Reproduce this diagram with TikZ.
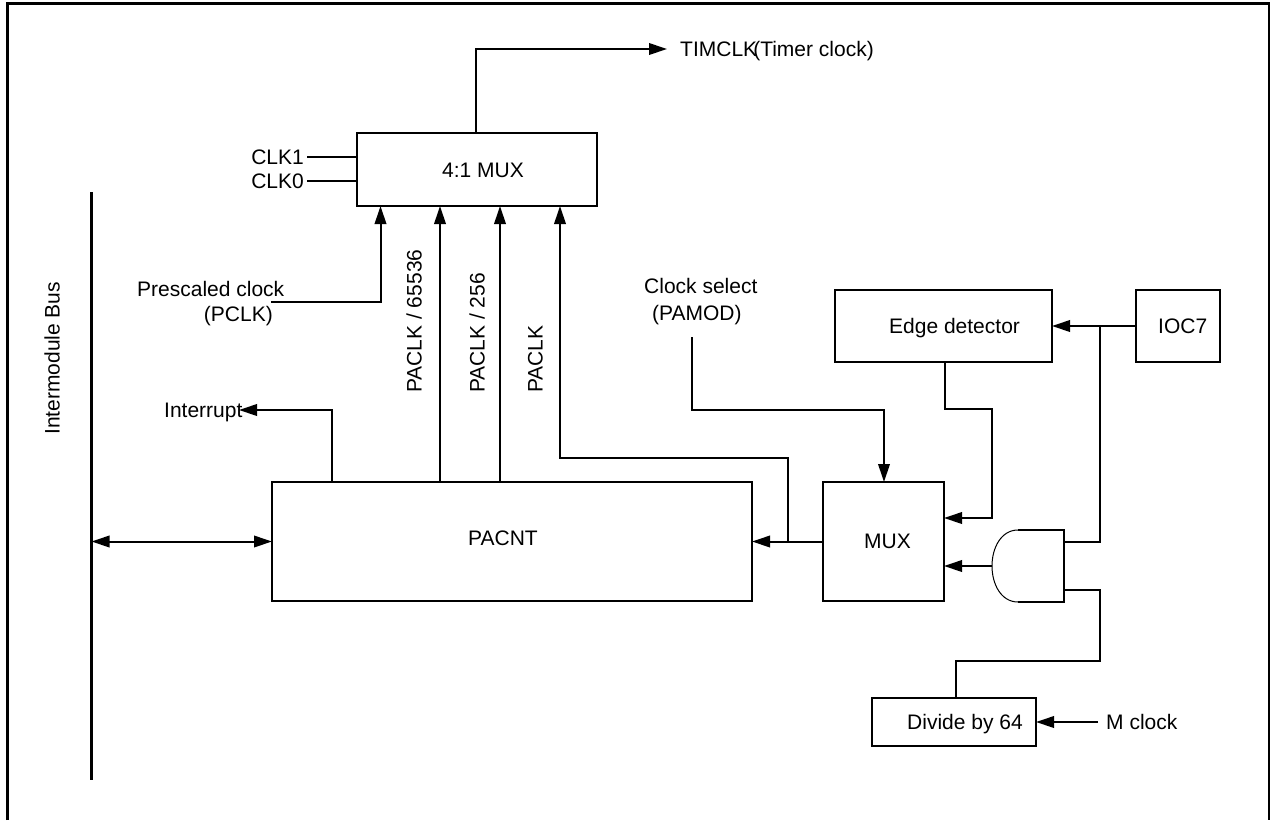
\documentclass[tikz,border=0pt]{standalone}
\usepackage{fontspec}
\setmainfont{Liberation Sans}
\usetikzlibrary{arrows.meta}
\tikzset{
  tip/.tip={Triangle[length=18pt,width=11.5pt]},
  box/.style={draw,line width=2pt,inner sep=0pt,outer sep=0pt,anchor=north west},
  wire/.style={line width=2pt},
  arr/.style={wire,-tip},
  biarr/.style={wire,tip-tip},
  thick line/.style={line width=3pt},
  lab/.style={font=\fontsize{21}{24}\selectfont,inner sep=0pt,anchor=west,text height=15pt,text depth=0pt},
  rlab/.style={lab,rotate=90}}
\begin{document}
\begin{tikzpicture}[x=1pt,y=-1pt]
\useasboundingbox (0,0) rectangle (1270,820);
\fill[white] (0,0) rectangle (1270,820);
\draw[thick line] (7.5,820) -- (7.5,3.5) -- (1269,3.5) -- (1269,820);
\node[box,minimum width=240pt,minimum height=73pt] (mux4) at (356.5,133) {};
\node[lab] at (442,170) {4:1 MUX};
\node[box,minimum width=480pt,minimum height=119pt] (pacnt) at (272,482) {};
\node[lab] at (468,538) {PACNT};
\node[box,minimum width=121pt,minimum height=119pt] (mux) at (823,482) {};
\node[lab] at (864,541) {MUX};
\node[box,minimum width=217pt,minimum height=72pt] (edge) at (835,290) {};
\node[lab] at (889,326) {Edge detector};
\node[box,minimum width=84pt,minimum height=72pt] (ioc) at (1136,290) {};
\node[lab] at (1158,326) {IOC7};
\node[box,minimum width=164pt,minimum height=48pt] (div) at (872,698) {};
\node[lab] at (907,722) {Divide by 64};
\node[lab] (mclk) at (1106,722) {M clock};
\node[lab] (tim) at (680,49) {TIMCLK};
\node[lab,anchor=east] at (874,49) {(Timer clock)};
\node[lab,anchor=east] (c1) at (304,157) {CLK1};
\node[lab,anchor=east] (c0) at (304,181) {CLK0};
\node[lab] (ps) at (137,289) {Prescaled clock};
\node[lab,anchor=east] (pc) at (273,314) {(PCLK)};
\node[lab] (cs) at (644,286) {Clock select};
\node[lab] (pm) at (652,313) {(PAMOD)};
\node[lab] (int) at (164,410) {Interrupt};
\node[rlab,anchor=west] at (52,435) {Intermodule Bus};
\node[rlab,anchor=west] at (414,393) {PACLK / 65536};
\node[rlab,anchor=west] at (477,393) {PACLK / 256};
\node[rlab,anchor=west] at (535,393) {PACLK};
\coordinate (bt) at (91.5,192);
\coordinate (bb) at (91.5,780);
\coordinate (tt) at (667,49);
\coordinate (ci) at (239,410);
\draw[thick line] (bt) -- (bb);
\draw[biarr] (93,541.5 -| bt) -- (pacnt.west);
\draw[arr] (476,0 |- mux4.north) -- (476,49) -- (tt);
\draw[wire] (307,157) -- (307,157 -| mux4.west);
\draw[wire] (307,181) -- (307,181 -| mux4.west);
\draw[arr] (271,302) -- (380.5,302) -- (380.5,0 |- mux4.south);
\draw[arr] (440,0 |- pacnt.north) -- (440,0 |- mux4.south);
\draw[arr] (500,0 |- pacnt.north) -- (500,0 |- mux4.south);
\draw[arr] (788,541.5) -- (788,458) -- (560,458) -- (560,0 |- mux4.south);
\draw[arr] (332,0 |- pacnt.north) -- (332,410) -- (ci);
\draw[arr] (mux.west) -- (pacnt.east);
\draw[arr] (692,337) -- (692,410) -- (884,410) -- (884,0 |- mux.north);
\draw[arr] (945,0 |- edge.south) -- (945,409) -- (992,409) -- (992,518) -- (992,518 -| mux.east);
\coordinate (gl) at (992,566);
\draw[arr] (gl) -- (gl -| mux.east);
\draw[wire] (1064,542) -- (1100,542) -- (1100,326);
\draw[arr] (ioc.west) -- (edge.east);
\draw[wire] (1064,590) -- (1100,590) -- (1100,661) -- (956,661) -- (956,0 |- div.north);
\draw[arr] (1098,722) -- (div.east);
\draw[wire] (1018,530) -- (1064,530) -- (1064,602) -- (1018,602);
\draw[line width=1pt] (1018,530) .. controls (1001,530) and (992,548) .. (gl) .. controls (992,584) and (1001,602) .. (1018,602);
\end{tikzpicture}
\end{document}
